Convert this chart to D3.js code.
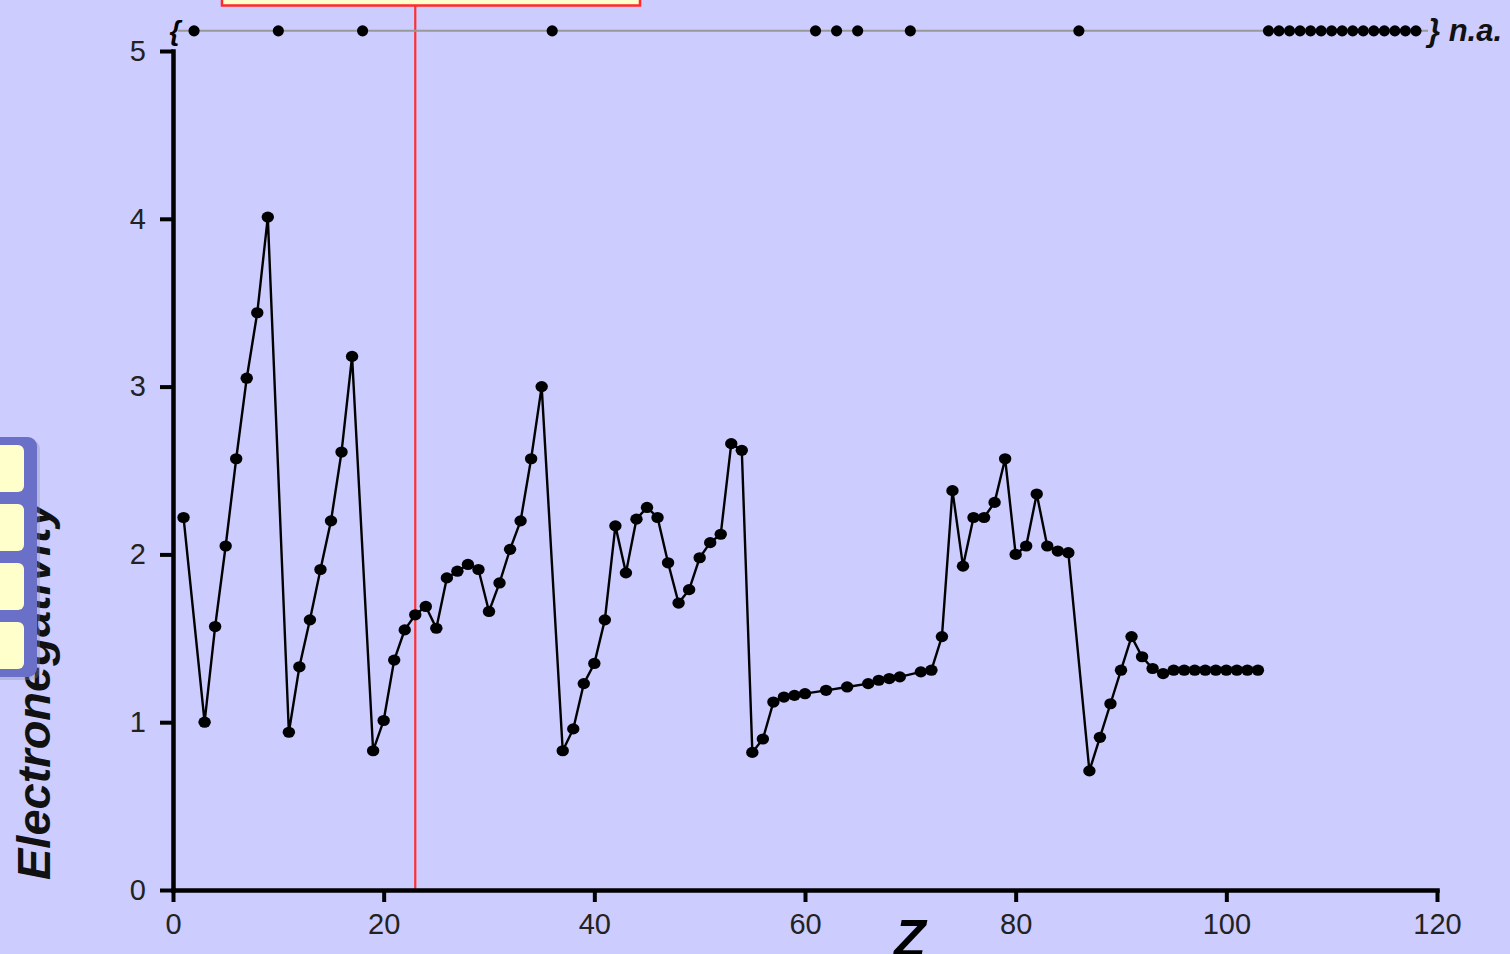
<!DOCTYPE html>
<html>
<head>
<meta charset="utf-8">
<script src="https://cdn.jsdelivr.net/npm/d3@7"></script>
<style>
  html, body { margin: 0; padding: 0; background: #ccccff; overflow: hidden; }
  svg { display: block; }
  text { font-family: "Liberation Sans", Arial, sans-serif; }
</style>
</head>
<body>
<svg id="chart" width="1510" height="954"></svg>
<script>
// Pauling electronegativity by atomic number (elements with a value)
const atomicNumbers = [1, 3, 4, 5, 6, 7, 8, 9, 11, 12, 13, 14, 15, 16, 17, 19, 20, 21, 22, 23, 24, 25, 26, 27, 28, 29, 30,
  31, 32, 33, 34, 35, 37, 38, 39, 40, 41, 42, 43, 44, 45, 46, 47, 48, 49, 50, 51, 52, 53, 54, 55, 56, 57, 58, 59, 60,
  62, 64, 66, 67, 68, 69, 71, 72, 73, 74, 75, 76, 77, 78, 79, 80, 81, 82, 83, 84, 85, 87, 88, 89, 90, 91, 92, 93, 94,
  95, 96, 97, 98, 99, 100, 101, 102, 103];
const electronegativity = [2.22, 1.00, 1.57, 2.05, 2.57, 3.05, 3.44, 4.01, 0.94, 1.33, 1.61, 1.91, 2.20, 2.61, 3.18,
  0.83, 1.01, 1.37, 1.55, 1.64, 1.69, 1.56, 1.86, 1.90, 1.94, 1.91, 1.66,
  1.83, 2.03, 2.20, 2.57, 3.00, 0.83, 0.96, 1.23, 1.35, 1.61, 2.17, 1.89, 2.21, 2.28, 2.22, 1.95, 1.71, 1.79, 1.98,
  2.07, 2.12, 2.66, 2.62, 0.82, 0.90, 1.12, 1.15, 1.16, 1.17,
  1.19, 1.21, 1.23, 1.25, 1.26, 1.27, 1.30, 1.31, 1.51, 2.38, 1.93, 2.22, 2.22, 2.31, 2.57, 2.00, 2.05, 2.36, 2.05,
  2.02, 2.01, 0.71, 0.91, 1.11, 1.31, 1.51, 1.39, 1.32, 1.29,
  1.31, 1.31, 1.31, 1.31, 1.31, 1.31, 1.31, 1.31, 1.31];
// Elements with no value available (n.a.)
const naNumbers = [2, 10, 18, 36, 61, 63, 65, 70, 86, 104, 105, 106, 107, 108, 109, 110, 111, 112, 113, 114, 115,
  116, 117, 118];
const xTicks = [0, 20, 40, 60, 80, 100, 120];
const yTicks = [0, 1, 2, 3, 4, 5];
const naRowLevel = 5.12;
const markerZ = 23;

const svg = d3.select("#chart");
const x = d3.scaleLinear().domain([0, 120]).range([173, 1437]);
const y = d3.scaleLinear().domain([0, 5]).range([890, 51]);

const points = atomicNumbers.map((z, i) => ({ z, v: electronegativity[i] }));

// red marker line and its label box at the top
svg.append("line")
  .attr("x1", x(markerZ)).attr("x2", x(markerZ))
  .attr("y1", 5).attr("y2", y(0))
  .attr("stroke", "#ff3030").attr("stroke-width", 2.2);
svg.append("rect")
  .attr("x", 222).attr("y", -20).attr("width", 418).attr("height", 25.5)
  .attr("fill", "#ffffcc").attr("stroke", "#ff2a2a").attr("stroke-width", 2.5);

// axes
const yAxis = d3.axisLeft(y).tickValues(yTicks).tickFormat(d3.format("d")).tickSize(13).tickSizeOuter(0).tickPadding(14);
const gy = svg.append("g").attr("transform", `translate(${x(0)},0)`).call(yAxis);
const xAxis = d3.axisBottom(x).tickValues(xTicks).tickFormat(d3.format("d")).tickSize(12).tickSizeOuter(0).tickPadding(11);
const gx = svg.append("g").attr("transform", `translate(0,${y(0)})`).call(xAxis);

[gx, gy].forEach(g => {
  g.select(".domain").attr("stroke", "#000").attr("stroke-width", 4.5).attr("stroke-linecap", "square");
  g.selectAll(".tick line").attr("stroke", "#000").attr("stroke-width", 4);
  g.selectAll(".tick text").attr("fill", "#222").style("font-size", "29px")
    .style("font-family", "'Liberation Sans', Arial, sans-serif");
});

// axis titles
svg.append("text")
  .attr("transform", `translate(50,${y(0) - 10}) rotate(-90)`)
  .attr("text-anchor", "start")
  .style("font-size", "47px").style("font-style", "italic").style("font-weight", "bold")
  .attr("fill", "#111")
  .text("Electronegativity");
svg.append("text")
  .attr("x", 910).attr("y", 956)
  .attr("text-anchor", "middle")
  .style("font-size", "52px").style("font-style", "italic").style("font-weight", "bold")
  .attr("fill", "#000")
  .text("Z");

// n.a. row
const naY = y(naRowLevel);
svg.append("line")
  .attr("x1", 178).attr("x2", 1428).attr("y1", naY).attr("y2", naY)
  .attr("stroke", "#999").attr("stroke-width", 2);
svg.append("text")
  .attr("x", 175).attr("y", naY + 9).attr("text-anchor", "middle")
  .style("font-size", "28px").style("font-style", "italic").style("font-weight", "bold")
  .text("{");
svg.append("text")
  .attr("x", 1428).attr("y", naY + 10)
  .style("font-size", "31px").style("font-style", "italic").style("font-weight", "bold")
  .attr("fill", "#111")
  .text("} n.a.");
svg.append("g").selectAll("circle").data(naNumbers).join("circle")
  .attr("cx", d => x(d)).attr("cy", naY).attr("r", 5.6).attr("fill", "#000");

// main series
const line = d3.line().x(d => x(d.z)).y(d => y(d.v));
svg.append("path").datum(points)
  .attr("d", line).attr("fill", "none").attr("stroke", "#000").attr("stroke-width", 2.4);
svg.append("g").selectAll("ellipse").data(points).join("ellipse")
  .attr("cx", d => x(d.z)).attr("cy", d => y(d.v)).attr("rx", 6.2).attr("ry", 5.6).attr("fill", "#000");

// side tab strip on the left edge
const tab = svg.append("g");
tab.append("rect").attr("x", -20).attr("y", 440).attr("width", 60).attr("height", 240).attr("rx", 9)
  .attr("fill", "#8888aa").attr("opacity", 0.35);
tab.append("rect").attr("x", -20).attr("y", 437).attr("width", 57).attr("height", 240).attr("rx", 9)
  .attr("fill", "#6a6fc8");
const cells = [445, 504, 563, 622];
tab.selectAll("rect.cell").data(cells).join("rect").attr("class", "cell")
  .attr("x", -10).attr("y", d => d).attr("width", 34).attr("height", 47).attr("rx", 6)
  .attr("fill", "#ffffcc");
</script>
</body>
</html>
